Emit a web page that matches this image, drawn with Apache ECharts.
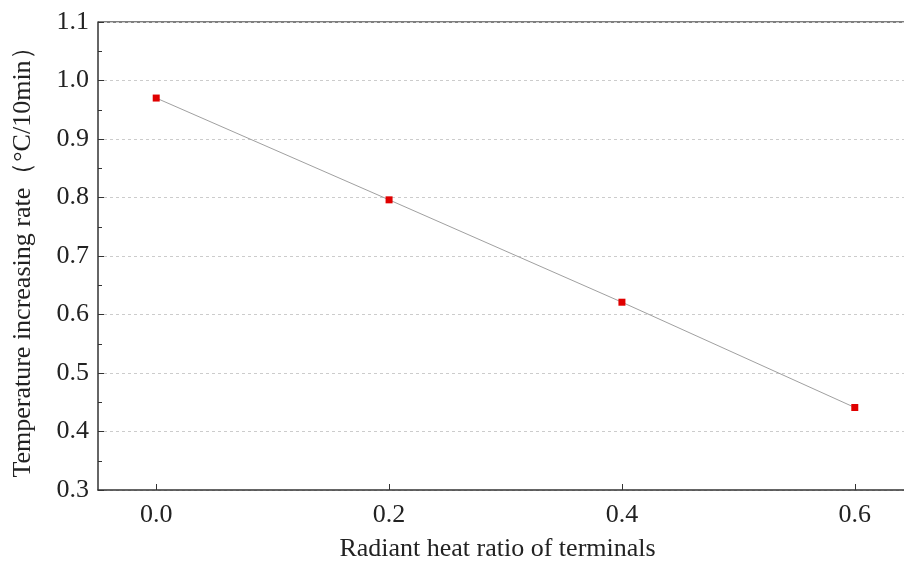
<!DOCTYPE html>
<html><head><meta charset="utf-8">
<script src="https://cdn.jsdelivr.net/npm/echarts@6/dist/echarts.min.js"></script>
<style>html,body{margin:0;padding:0;background:#fff}#c{width:904px;height:565px}</style>
</head><body><div id="c"></div>
<script>
const xValues = [0.0, 0.2, 0.4, 0.6];
const rateValues = [0.970, 0.796, 0.621, 0.441];
const xTicks = [0.0, 0.2, 0.4, 0.6];
const yTicks = [0.3, 0.4, 0.5, 0.6, 0.7, 0.8, 0.9, 1.0, 1.1];

const chart = echarts.init(document.getElementById('c'), null, {renderer: 'canvas'});
const font = 'Liberation Serif';
chart.setOption({
  animation: false,
  backgroundColor: '#fff',
  grid: {left: 98, top: 22, width: 815, height: 468, outerBoundsMode: 'none', containLabel: false},
  xAxis: {
    type: 'value', min: -0.05, max: 0.65,
    name: 'Radiant heat ratio of terminals', nameLocation: 'middle', nameGap: 46,
    nameTextStyle: {fontFamily: font, fontSize: 26, color: '#222', padding: [0, 16, 0, 0]},
    axisLine: {show: true, onZero: false, lineStyle: {color: '#333', width: 1.5}},
    axisTick: {show: true, inside: true, length: 6, lineStyle: {color: '#333'}, customValues: xTicks},
    axisLabel: {fontFamily: font, fontSize: 26, color: '#222', margin: 12, customValues: xTicks,
      formatter: v => v.toFixed(1)},
    splitLine: {show: false}
  },
  yAxis: {
    type: 'value', min: 0.3, max: 1.1, interval: 0.1,
    name: 'Temperature increasing rate（°C/10min）', nameLocation: 'middle', nameGap: 62,
    nameTextStyle: {fontFamily: font, fontSize: 26, color: '#222'},
    axisLine: {show: true, onZero: false, lineStyle: {color: '#333', width: 1.5}},
    axisTick: {show: true, inside: true, length: 6, lineStyle: {color: '#333'}},
    minorTick: {show: true, splitNumber: 2, length: 4, lineStyle: {color: '#333'}},
    axisLabel: {fontFamily: font, fontSize: 26, color: '#222', margin: 9,
      formatter: v => v.toFixed(1)},
    splitLine: {show: true, lineStyle: {color: '#ccc', type: [3, 3], width: 1}}
  },
  graphic: [{type: 'line', shape: {x1: 98, y1: 22, x2: 904, y2: 22}, style: {stroke: '#555', lineWidth: 1.5}}],
  series: [{
    type: 'line',
    data: xValues.map((x, i) => [x, rateValues[i]]),
    symbol: 'rect', symbolSize: 7,
    itemStyle: {color: '#e00000'},
    lineStyle: {color: '#a0a0a0', width: 1}
  }]
});
</script></body></html>
